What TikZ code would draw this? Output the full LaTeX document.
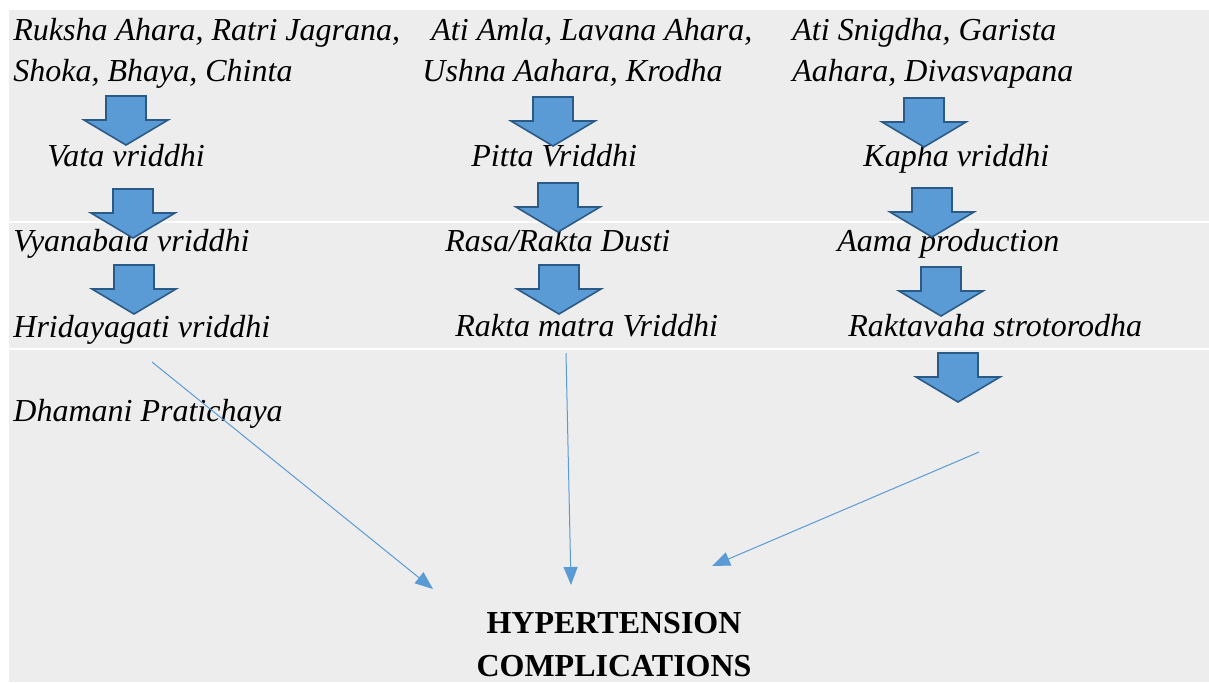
\documentclass[tikz,border=0pt]{standalone}
\usepackage{fontspec}
\setmainfont{Liberation Serif}[ItalicFont={Liberation Serif Italic},BoldFont={Liberation Serif Bold}]
\usetikzlibrary{arrows.meta}
\definecolor{bggrey}{HTML}{EDEDED}
\definecolor{arrowfill}{HTML}{5B9BD5}
\definecolor{arrowedge}{HTML}{2B5A87}
\definecolor{linkblue}{HTML}{5B9BD5}
\tikzset{
  cause/.style={anchor=base west,inner sep=0pt,font=\fontsize{16pt}{20pt}\selectfont\itshape},
  outcome/.style={anchor=base,inner sep=0pt,font=\fontsize{16pt}{20pt}\selectfont\bfseries},
  link/.style={linkblue,line width=0.5pt,-{Triangle[length=9pt,width=7pt]}},
  blockarrow/.pic={\draw[fill=arrowfill,draw=arrowedge,line width=0.8pt]
    (-20,0) -- (20,0) -- (20,24) -- (42,24) -- (0,49) -- (-42,24) -- (-20,24) -- cycle;}
}

\begin{document}
\begin{tikzpicture}[x=0.5pt,y=-0.5pt]
	    \useasboundingbox (0,0) rectangle (1209,682);
	    \fill[bggrey] (9,10) rectangle (1209,682);
	    \draw[white,line width=0.8pt] (9,222) -- (1209,222);
	    \draw[white,line width=0.8pt] (9,349) -- (1209,349);
	    % vata column
	    \node[cause] (vatacauseA) at (13,40) {Ruksha Ahara, Ratri Jagrana,};
	    \node[cause] (vatacauseB) at (13,81) {Shoka, Bhaya, Chinta};
	    \node[cause] (vata) at (47,166) {Vata vriddhi};
	    \node[cause] (vyana) at (13,251) {Vyanabala vriddhi};
	    \node[cause] (hrida) at (13,337) {Hridayagati vriddhi};
	    \node[cause] (dhamani) at (13,421) {Dhamani Pratichaya};
	    % pitta column
	    \node[cause] (pittacauseA) at (431,40) {Ati Amla, Lavana Ahara,};
	    \node[cause] (pittacauseB) at (422,81) {Ushna Aahara, Krodha};
	    \node[cause] (pitta) at (471,166) {Pitta Vriddhi};
	    \node[cause] (rasa) at (445,251) {Rasa/Rakta Dusti};
	    \node[cause] (rakta) at (455,336) {Rakta matra Vriddhi};
	    % kapha column
	    \node[cause] (kaphacauseA) at (792,40) {Ati Snigdha, Garista};
	    \node[cause] (kaphacauseB) at (792,81) {Aahara, Divasvapana};
	    \node[cause] (kapha) at (863,166) {Kapha vriddhi};
	    \node[cause] (aama) at (837,251) {Aama production};
	    \node[cause] (rodha) at (848,336) {Raktavaha strotorodha};
	    % block arrows
	    \pic (vataA) at (126,96) {blockarrow};
	    \pic (vataB) at (133,189) {blockarrow};
	    \pic (vataC) at (134,265) {blockarrow};
	    \pic (pittaA) at (553,97) {blockarrow};
	    \pic (pittaB) at (558,183) {blockarrow};
	    \pic (pittaC) at (559,265) {blockarrow};
	    \pic (kaphaA) at (924,98) {blockarrow};
	    \pic (kaphaB) at (932,188) {blockarrow};
	    \pic (kaphaC) at (941,267) {blockarrow};
	    \pic (kaphaD) at (958,353) {blockarrow};
	    % outcome
	    \node[outcome] (hyper) at (614,633) {HYPERTENSION};
	    \node[outcome] (compl) at (614,676) {COMPLICATIONS};
	    \coordinate (vataend) at (152,362);
	    \coordinate (pittaend) at (566,353);
	    \coordinate (kaphaend) at (979,452);
	    \coordinate (vatatip) at (433,589);
	    \coordinate (pittatip) at (571,585);
	    \coordinate (kaphatip) at (712,566);
	    \draw[link] (vataend) -- (vatatip);
	    \draw[link] (pittaend) -- (pittatip);
	    \draw[link] (kaphaend) -- (kaphatip);
	\end{tikzpicture}
\end{document}
